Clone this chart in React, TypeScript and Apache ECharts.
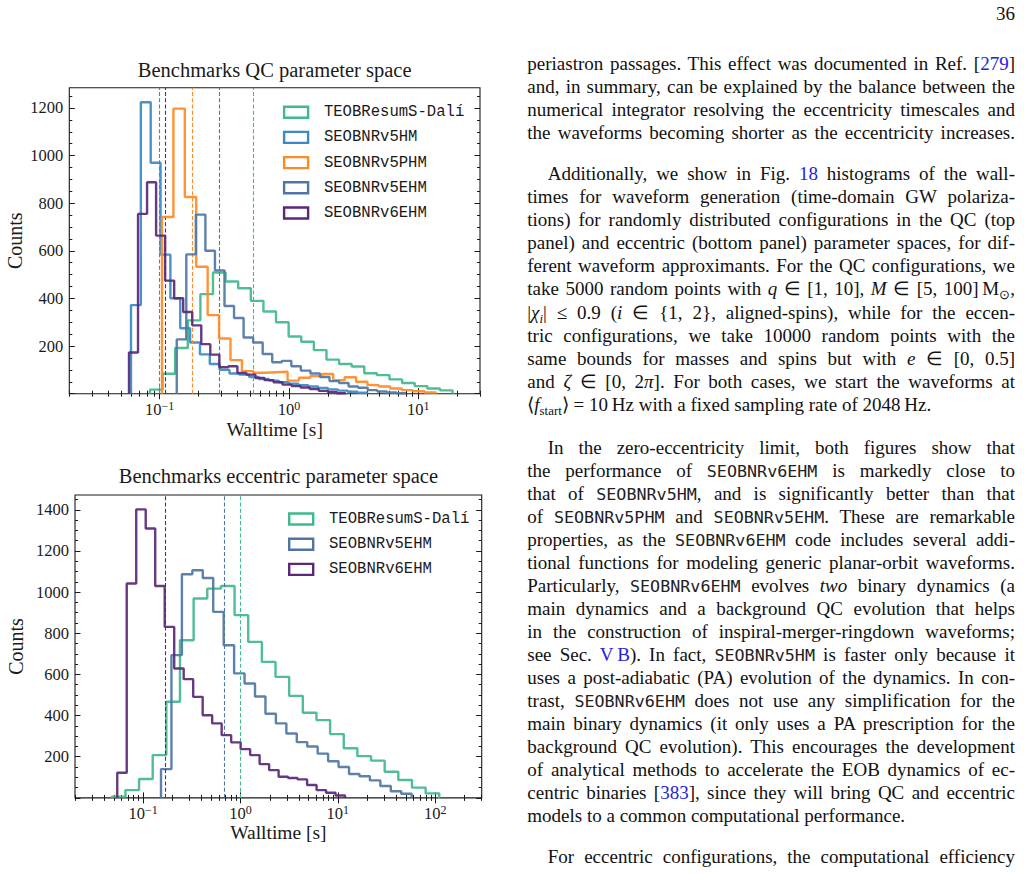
import React, { useEffect, useRef } from 'react';
import * as echarts from 'echarts';

// ---------- QC parameter space (upper panel) ----------
const qcNames = ['TEOBResumS-Dalí', 'SEOBNRv5HM', 'SEOBNRv5PHM', 'SEOBNRv5EHM', 'SEOBNRv6EHM'];
const qcColors = ['#40b98d', '#3a8ac6', '#ff8a24', '#4f76a3', '#5b2878'];
// outer edges of each walltime histogram [s]; bins are evenly spaced in log10
const qcBinLo = [0.0841, 0.06, 0.1042, 0.1355, 0.0579];
const qcBinHi = [18.4, 4.04, 13.7, 8.02, 2.75];
const qcTeob = [17, 84, 192, 308, 418, 509, 471, 443, 390, 345, 300, 240, 218, 183, 143, 125, 114, 86, 78, 60, 45, 32, 22, 14];
const qcV5HM = [372, 1224, 970, 584, 401, 275, 215, 165, 125, 100, 85, 80, 70, 62, 55, 48, 42, 36, 30, 24, 18, 13, 8, 4];
const qcV5PHM = [742, 1197, 826, 533, 330, 232, 141, 95, 88, 90, 92, 55, 67, 74, 83, 57, 69, 50, 36, 30, 22, 15, 10, 5];
const qcV5EHM = [228, 585, 752, 600, 518, 368, 318, 236, 215, 167, 132, 138, 115, 97, 85, 70, 53, 45, 30, 25, 15, 9, 5, 2];
const qcV6EHM = [173, 755, 888, 664, 475, 401, 343, 287, 208, 164, 111, 115, 87, 80, 66, 57, 48, 38, 32, 26, 20, 12, 7, 2];
const qcMedian = [0.53, 0.1006, 0.177, 0.289, 0.1086];
const qcXRange = [0.02, 30];
const qcYMax = 1285;
const qcYTicks = [200, 400, 600, 800, 1000, 1200];

// ---------- eccentric parameter space (lower panel) ----------
const eccNames = ['TEOBResumS-Dalí', 'SEOBNRv5EHM', 'SEOBNRv6EHM'];
const eccColors = ['#40b98d', '#4f76a3', '#5b2878'];
const eccBinLo = [0.0477, 0.1528, 0.0543];
const eccBinHi = [110, 57.3, 11.86];
const eccTeob = [6, 38, 92, 208, 467, 766, 969, 1017, 1030, 888, 758, 661, 588, 496, 414, 378, 310, 241, 203, 181, 127, 87, 50, 22];
const eccV5EHM = [140, 694, 1087, 1106, 1069, 904, 742, 605, 556, 493, 409, 362, 313, 271, 250, 215, 178, 150, 116, 105, 85, 58, 32, 20];
const eccV6EHM = [122, 1042, 1402, 1309, 1030, 831, 629, 577, 491, 402, 362, 305, 270, 237, 208, 164, 135, 103, 97, 90, 63, 38, 25, 12];
const eccMedian = [1.0, 0.678, 0.1746];
const eccXRange = [0.02, 300];
const eccYMax = 1472;
const eccYTicks = [200, 400, 600, 800, 1000, 1200, 1400];

const qcCounts = [qcTeob, qcV5HM, qcV5PHM, qcV5EHM, qcV6EHM];
const eccCounts = [eccTeob, eccV5EHM, eccV6EHM];

const INK = '#1a1a1a';
const SERIF = '"Liberation Serif", "Times New Roman", serif';
const MONO = '"Liberation Mono", "DejaVu Sans Mono", monospace';

// outline of a step histogram: up at the first edge, across every bin, down at the last edge
function stepOutline(lo: number, hi: number, counts: number[]) {
  const n = counts.length;
  const a = Math.log10(lo);
  const b = Math.log10(hi);
  const edges: number[] = [];
  for (let i = 0; i <= n; i++) edges.push(Math.pow(10, a + ((b - a) * i) / n));
  const pts: number[][] = [[edges[0], 0]];
  counts.forEach((c, i) => {
    pts.push([edges[i], c], [edges[i + 1], c]);
  });
  pts.push([edges[n], 0]);
  return pts;
}

function logMajors(range: number[]) {
  const out: number[] = [];
  for (let e = -3; e <= 4; e++) {
    const v = Math.pow(10, e);
    if (v >= range[0] && v <= range[1]) out.push(v);
  }
  return out;
}

function logMinors(range: number[]) {
  const out: number[] = [];
  for (let e = -3; e <= 4; e++) {
    for (let k = 2; k <= 9; k++) {
      const v = parseFloat((k * Math.pow(10, e)).toPrecision(6));
      if (v >= range[0] * 0.9999 && v <= range[1] * 1.0001) out.push(v);
    }
  }
  return out;
}

function linMinors(step: number, majorStep: number, max: number) {
  const out: number[] = [];
  for (let v = step; v <= max; v += step) if (v % majorStep !== 0) out.push(v);
  return out;
}

const tickLine = { color: INK, width: 1 };

function xAxesFor(gridIndex: number, range: number[]) {
  const majors = logMajors(range);
  const minors = logMinors(range);
  const base = {
    type: 'log',
    logBase: 10,
    gridIndex,
    min: range[0],
    max: range[1],
    splitLine: { show: false },
    axisLine: { show: false },
  };
  const label = {
    customValues: majors,
    margin: 6.5,
    formatter: (v: number) => {
      const e = Math.round(Math.log10(v));
      return `{b|10}{s|${e < 0 ? '\u2212' + -e : e}}`;
    },
    rich: {
      b: { fontFamily: SERIF, fontSize: 16.5, lineHeight: 18, verticalAlign: 'bottom', color: INK },
      s: { fontFamily: SERIF, fontSize: 12, lineHeight: 8, verticalAlign: 'top', color: INK },
    },
  };
  return [
    { ...base, position: 'bottom', axisTick: { inside: true, length: 5.5, customValues: majors, lineStyle: tickLine }, axisLabel: label },
    { ...base, position: 'bottom', axisTick: { inside: true, length: 3, customValues: minors, lineStyle: tickLine }, axisLabel: { show: false } },
    { ...base, position: 'top', axisTick: { inside: true, length: 5.5, customValues: majors, lineStyle: tickLine }, axisLabel: { show: false } },
    { ...base, position: 'top', axisTick: { inside: true, length: 3, customValues: minors, lineStyle: tickLine }, axisLabel: { show: false } },
  ];
}

function yAxesFor(gridIndex: number, max: number, labels: number[]) {
  const majors = [0, ...labels];
  const minors = linMinors(50, 200, max);
  const base = {
    type: 'value',
    gridIndex,
    min: 0,
    max,
    splitLine: { show: false },
    axisLine: { show: false },
  };
  return [
    {
      ...base,
      position: 'left',
      axisTick: { inside: true, length: 5.5, customValues: majors, lineStyle: tickLine },
      axisLabel: {
        customValues: labels,
        margin: 6,
        fontFamily: SERIF,
        fontSize: 16.5,
        color: INK,
        formatter: (v: number) => String(Math.round(v)),
      },
    },
    { ...base, position: 'left', axisTick: { inside: true, length: 3, customValues: minors, lineStyle: tickLine }, axisLabel: { show: false } },
    { ...base, position: 'right', axisTick: { inside: true, length: 5.5, customValues: majors, lineStyle: tickLine }, axisLabel: { show: false } },
    { ...base, position: 'right', axisTick: { inside: true, length: 3, customValues: minors, lineStyle: tickLine }, axisLabel: { show: false } },
  ];
}

function histSeries(names: string[], colors: string[], lo: number[], hi: number[], counts: number[][], medians: number[], axisIndex: number) {
  return names.map((name, i) => ({
    type: 'line',
    name,
    xAxisIndex: axisIndex,
    yAxisIndex: axisIndex,
    data: stepOutline(lo[i], hi[i], counts[i]),
    symbol: 'none',
    showSymbol: false,
    silent: true,
    z: 3 + i,
    lineStyle: { color: colors[i], width: 2.4, opacity: 0.92 },
    itemStyle: { color: colors[i] },
    markLine: {
      symbol: ['none', 'none'],
      silent: true,
      label: { show: false },
      lineStyle: { color: colors[i], type: [4, 2.2], width: 1.1, opacity: 1 },
      data: [{ xAxis: medians[i] }],
    },
  }));
}

function legendFor(names: string[], colors: string[], left: number, top: number) {
  return {
    orient: 'vertical',
    left,
    top,
    padding: 0,
    itemWidth: 24,
    itemHeight: 11,
    itemGap: 9.2,
    icon: 'rect',
    selectedMode: false,
    data: names.map((n, i) => ({
      name: n,
      icon: 'rect',
      itemStyle: { color: 'rgba(0,0,0,0)', borderColor: colors[i], borderWidth: 2.4 },
    })),
    textStyle: { fontFamily: MONO, fontSize: 15.6, lineHeight: 16, color: INK, padding: [0, 0, 0, 10.8] },
  };
}

function textEl(text: string, x: number, y: number, size: number, rotation = 0) {
  return {
    type: 'text',
    x,
    y,
    rotation,
    silent: true,
    style: {
      text,
      fill: INK,
      fontFamily: SERIF,
      fontSize: size,
      align: 'center',
      verticalAlign: 'middle',
      textAlign: 'center',
      textVerticalAlign: 'middle',
    },
  };
}

const qcGrid = { left: 69.3, top: 87.7, width: 410.7, height: 306 };
const eccGrid = { left: 75, top: 495, width: 406.7, height: 302.9 };

function buildOption() {
  return {
    animation: false,
    grid: [
      { ...qcGrid, show: true, borderColor: INK, borderWidth: 1.1, backgroundColor: 'transparent' },
      { ...eccGrid, show: true, borderColor: INK, borderWidth: 1.1, backgroundColor: 'transparent' },
    ],
    xAxis: [...xAxesFor(0, qcXRange), ...xAxesFor(1, eccXRange)],
    yAxis: [...yAxesFor(0, qcYMax, qcYTicks), ...yAxesFor(1, eccYMax, eccYTicks)],
    legend: [legendFor(qcNames, qcColors, 282.9, 104.2), legendFor(eccNames, eccColors, 288, 511)],
    series: [
      ...histSeries(qcNames, qcColors, qcBinLo, qcBinHi, qcCounts, qcMedian, 0),
      ...histSeries(eccNames, eccColors, eccBinLo, eccBinHi, eccCounts, eccMedian, 4),
    ],
    graphic: [
      textEl('Benchmarks QC parameter space', qcGrid.left + qcGrid.width / 2, 69.5, 20.5),
      textEl('Walltime [s]', qcGrid.left + qcGrid.width / 2, 429, 19.5),
      textEl('Counts', 15.3, qcGrid.top + qcGrid.height / 2, 20, Math.PI / 2),
      textEl('Benchmarks eccentric parameter space', eccGrid.left + eccGrid.width / 2, 476, 20.5),
      textEl('Walltime [s]', eccGrid.left + eccGrid.width / 2, 832.5, 19.5),
      textEl('Counts', 15.5, eccGrid.top + eccGrid.height / 2, 20, Math.PI / 2),
    ],
  };
}

// ---------- body text ----------
const Mono = ({ children }: { children: React.ReactNode }) => (
  <span style={{ fontFamily: '"DejaVu Sans Mono", monospace', fontSize: '0.88em', color: '#222' }}>{children}</span>
);
const Ref = ({ children }: { children: React.ReactNode }) => <span style={{ color: '#2323d8' }}>{children}</span>;
const Sub = ({ children }: { children: React.ReactNode }) => (
  <span style={{ fontSize: '0.68em', verticalAlign: '-0.28em', lineHeight: 0 }}>{children}</span>
);

type Line = { y: number; indent?: boolean; last?: boolean; c: React.ReactNode };

const PITCH = 23.05;
function para(startY: number, items: React.ReactNode[], lastLeft = true): Line[] {
  return items.map((c, i) => ({
    y: startY + i * PITCH,
    indent: false,
    last: lastLeft && i === items.length - 1,
    c,
  }));
}

const p1 = para(
  65.7,
  [
    <>periastron passages. This effect was documented in Ref. [<Ref>279</Ref>]</>,
    <>and, in summary, can be explained by the balance between the</>,
    <>numerical integrator resolving the eccentricity timescales and</>,
    <>the waveforms becoming shorter as the eccentricity increases.</>,
  ],
  false
);

const p2 = para(175.7, [
  <>Additionally, we show in Fig. <Ref>18</Ref> histograms of the wall-</>,
  <>times for waveform generation (time-domain GW polariza-</>,
  <>tions) for randomly distributed configurations in the QC (top</>,
  <>panel) and eccentric (bottom panel) parameter spaces, for dif-</>,
  <>ferent waveform approximants. For the QC configurations, we</>,
  <>
    take 5000 random points with <i>q</i> ∈ [1, 10], <i>M</i> ∈ [5, 100]{'\u2009'}M<Sub>⊙</Sub>,
  </>,
  <>
    |<i>χ</i>
    <Sub>
      <i>i</i>
    </Sub>
    | ≤ 0.9 (<i>i</i> ∈ {'{'}1, 2{'}'}, aligned-spins), while for the eccen-
  </>,
  <>tric configurations, we take 10000 random points with the</>,
  <>
    same bounds for masses and spins but with <i>e</i> ∈ [0, 0.5]
  </>,
  <>
    and <i>ζ</i> ∈ [0, 2<i>π</i>]. For both cases, we start the waveforms at
  </>,
  <>
    ⟨<i>f</i>
    <Sub>start</Sub>⟩ = 10{'\u2009'}Hz with a fixed sampling rate of 2048{'\u2009'}Hz.
  </>,
]);
p2[0].indent = true;

const p3 = para(449, [
  <>In the zero-eccentricity limit, both figures show that</>,
  <>
    the performance of <Mono>SEOBNRv6EHM</Mono> is markedly close to
  </>,
  <>
    that of <Mono>SEOBNRv5HM</Mono>, and is significantly better than that
  </>,
  <>
    of <Mono>SEOBNRv5PHM</Mono> and <Mono>SEOBNRv5EHM</Mono>. These are remarkable
  </>,
  <>
    properties, as the <Mono>SEOBNRv6EHM</Mono> code includes several addi-
  </>,
  <>tional functions for modeling generic planar-orbit waveforms.</>,
  <>
    Particularly, <Mono>SEOBNRv6EHM</Mono> evolves <i>two</i> binary dynamics (a
  </>,
  <>main dynamics and a background QC evolution that helps</>,
  <>in the construction of inspiral-merger-ringdown waveforms;</>,
  <>
    see Sec. <Ref>V{'\u2009'}B</Ref>). In fact, <Mono>SEOBNRv5HM</Mono> is faster only because it
  </>,
  <>uses a post-adiabatic (PA) evolution of the dynamics. In con-</>,
  <>
    trast, <Mono>SEOBNRv6EHM</Mono> does not use any simplification for the
  </>,
  <>main binary dynamics (it only uses a PA prescription for the</>,
  <>background QC evolution). This encourages the development</>,
  <>of analytical methods to accelerate the EOB dynamics of ec-</>,
  <>
    centric binaries [<Ref>383</Ref>], since they will bring QC and eccentric
  </>,
  <>models to a common computational performance.</>,
]);
p3[0].indent = true;

const p4 = para(858.3, [<>For eccentric configurations, the computational efficiency</>], false);
p4[0].indent = true;

const bodyLines: Line[] = [...p1, ...p2, ...p3, ...p4];

const COL_LEFT = 527.3;
const COL_WIDTH = 487.7;
const INDENT = 20.4;

export default function App() {
  const ref = useRef<HTMLDivElement>(null);

  useEffect(() => {
    if (!ref.current) return;
    const chart = echarts.init(ref.current, undefined, { renderer: 'svg' });
    chart.setOption(buildOption() as any);
    return () => chart.dispose();
  }, []);

  return (
    <div
      style={{
        position: 'fixed',
        left: 0,
        top: 0,
        width: 1024,
        height: 873,
        background: '#ffffff',
        overflow: 'hidden',
      }}
    >
      <div ref={ref} style={{ position: 'absolute', left: 0, top: 0, width: 500, height: 873 }} />
      <div
        style={{
          position: 'absolute',
          right: 1024 - 1015,
          top: 1.5,
          fontFamily: SERIF,
          fontSize: 19,
          lineHeight: '23px',
          color: '#111',
        }}
      >
        36
      </div>
      {bodyLines.map((l, i) => (
        <div
          key={i}
          style={{
            position: 'absolute',
            left: COL_LEFT + (l.indent ? INDENT : 0),
            width: COL_WIDTH - (l.indent ? INDENT : 0),
            top: l.y - 13.5,
            height: 23,
            lineHeight: '23px',
            fontFamily: SERIF,
            fontSize: 19,
            color: '#111',
            textAlign: l.last ? 'left' : 'justify',
            textAlignLast: l.last ? 'left' : 'justify',
          }}
        >
          {l.c}
        </div>
      ))}
    </div>
  );
}
